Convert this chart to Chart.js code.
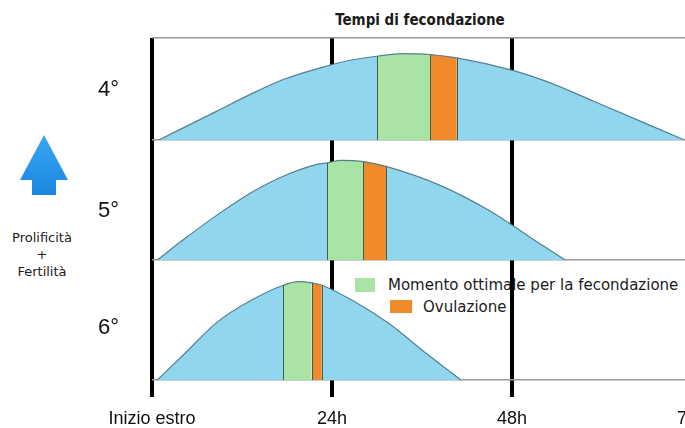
<!DOCTYPE html>
<html>
<head>
<meta charset="utf-8">
<title>Tempi di fecondazione</title>
<script src="https://cdn.jsdelivr.net/npm/chart.js@4.4.0/dist/chart.umd.min.js"></script>
<style>
  html, body { margin: 0; padding: 0; background: #fff; overflow: hidden; }
  #wrap { position: relative; width: 685px; height: 428px; overflow: hidden; }
  #chart { position: absolute; left: 0; top: 0; z-index: 1; }
  .txt { position: absolute; color: #1b1b1b; white-space: nowrap; font-family: "DejaVu Sans", sans-serif; }
  #title { left: 320px; width: 200px; top: 11px; text-align: center; font: bold 15px/18px "DejaVu Sans Condensed", sans-serif; }
  #side { left: 0; width: 84px; top: 229px; text-align: center; font-size: 13px; line-height: 17px; }
  .swatch { position: absolute; }
  #arrow { position: absolute; left: 0; top: 0; }
</style>
</head>
<body>
<div id="wrap">
  <div class="txt" id="title">Tempi di fecondazione</div>
  <svg id="arrow" width="90" height="210">
    <defs>
      <linearGradient id="ag" x1="0" y1="0" x2="0" y2="1">
        <stop offset="0" stop-color="#3aa6f0"/>
        <stop offset="1" stop-color="#1a86df"/>
      </linearGradient>
    </defs>
    <polygon points="44,135 68,180 56,180 56,195 32,195 32,180 20,180" fill="url(#ag)"/>
  </svg>
  <div class="txt" id="side">Prolificità<br>+<br>Fertilità</div>
  <div class="swatch" style="left:355px;top:278px;width:20px;height:14px;background:#a9e4a4"></div>
  <div class="txt" style="left:388px;top:276px;font-size:15px;line-height:18px">Momento ottimale per la fecondazione</div>
  <div class="swatch" style="left:390px;top:300px;width:22px;height:13px;background:#f08a2a"></div>
  <div class="txt" style="left:423px;top:298px;font-size:15px;line-height:18px">Ovulazione</div>
  <canvas id="chart" width="718" height="428"></canvas>
</div>
<script>
// rows: 4°, 5°, 6° (top to bottom); x in hours from the start of oestrus
const rowLabels = ['4°', '5°', '6°'];

const hours4 = [0.9, 8.65, 13.1, 17.5, 22.9, 26.4, 30.0, 33.5, 37.1, 40.65, 48.2, 53.1, 58.9, 71];
const fert4  = [0, 0.283, 0.447, 0.593, 0.717, 0.782, 0.821, 0.847, 0.838, 0.805, 0.68, 0.56, 0.38, 0];

const hours5 = [0.7, 4.2, 8.65, 13.1, 17.5, 22.0, 23.4, 25.2, 28.2, 31.2, 38.5, 45.3, 48.5, 52.1, 55.1];
const fert5  = [0, 0.17, 0.374, 0.557, 0.698, 0.797, 0.81, 0.83, 0.82, 0.78, 0.62, 0.40, 0.27, 0.12, 0];

const hours6 = [0.7, 4.2, 8.65, 13.1, 17.5, 19.5, 21.3, 22.65, 27.1, 31.6, 36.2, 41.2];
const fert6  = [0, 0.21, 0.48, 0.66, 0.79, 0.82, 0.81, 0.79, 0.65, 0.47, 0.24, 0];

// [start, end] in hours, one per row
const optimal   = [[30.0, 37.1], [23.4, 28.2], [17.5, 21.3]];
const ovulation = [[37.1, 40.65], [28.2, 31.2], [21.3, 22.65]];

const hourTicks  = [0, 24, 48, 72];
const hourLabels = ['Inizio estro', '24h', '48h', '72h'];

const BLUE = '#91d6ef';
const GREEN = '#a9e4a4';
const ORANGE = '#f08a2a';
const OUTLINE = '#55808e';
const ROWLINE = '#9a9a9a';

const rowIds = ['yTop', 'yMid', 'yBot'];
const rowWeights = [102, 120, 120];
const labelAt = [0.49, 0.41, 0.43];

function toPoints(hours, vals) {
    return hours.map((h, i) => ({ x: h, y: vals[i] }));
}

function bandColor(row) {
    return ctx => {
        const a = ctx.p0.parsed.x, b = ctx.p1.parsed.x;
        if (a >= optimal[row][0] && b <= optimal[row][1]) return GREEN;
        if (a >= ovulation[row][0] && b <= ovulation[row][1]) return ORANGE;
        return undefined;
    };
}

function makeDataset(row, hours, vals) {
    return {
        data: toPoints(hours, vals),
        yAxisID: rowIds[row],
        borderColor: OUTLINE,
        borderWidth: 1.2,
        backgroundColor: BLUE,
        fill: 'origin',
        pointRadius: 0,
        cubicInterpolationMode: 'monotone',
        segment: { backgroundColor: bandColor(row) }
    };
}

function rowScale(row) {
    return {
        type: 'linear',
        position: 'left',
        stack: 'rows',
        stackWeight: rowWeights[row],
        weight: 3 - row,
        min: 0,
        max: 1,
        border: { display: false },
        grid: {
            drawTicks: false,
            lineWidth: 1.5,
            color: ctx => {
                const v = ctx.tick ? ctx.tick.value : -1;
                if (v === 0 || (row === 0 && v === 1)) return ROWLINE;
                return 'rgba(0,0,0,0)';
            }
        },
        afterBuildTicks: scale => {
            scale.ticks = [{ value: 0 }, { value: labelAt[row] }, { value: 1 }];
        },
        afterFit: scale => { scale.width = 54; },
        ticks: {
            padding: 0,
            autoSkip: false,
            crossAlign: 'far',
            color: '#111',
            font: { family: 'Liberation Sans', size: 22 },
            callback: value => value === labelAt[row] ? rowLabels[row] : ''
        }
    };
}

// thin dark lines on the edges of the coloured bands
const bandEdges = {
    id: 'bandEdges',
    afterDatasetsDraw(chart) {
        const ctx = chart.ctx;
        chart.data.datasets.forEach((ds, i) => {
            const meta = chart.getDatasetMeta(i);
            const yScale = chart.scales[ds.yAxisID];
            const base = yScale.getPixelForValue(0);
            const edges = [optimal[i][0], ovulation[i][0], ovulation[i][1]];
            meta.data.forEach((pt, j) => {
                if (!edges.includes(ds.data[j].x)) return;
                ctx.save();
                ctx.strokeStyle = '#3f5f52';
                ctx.lineWidth = 1;
                ctx.beginPath();
                ctx.moveTo(Math.round(pt.x) + 0.5, base);
                ctx.lineTo(Math.round(pt.x) + 0.5, pt.y);
                ctx.stroke();
                ctx.restore();
            });
        });
    }
};

const chart = new Chart(document.getElementById('chart').getContext('2d'), {
    type: 'line',
    data: {
        datasets: [
            makeDataset(0, hours4, fert4),
            makeDataset(1, hours5, fert5),
            makeDataset(2, hours6, fert6)
        ]
    },
    options: {
        responsive: false,
        animation: false,
        events: [],
        layout: { padding: { left: 98, right: 0, top: 38, bottom: 0 } },
        plugins: {
            legend: { display: false },
            tooltip: { enabled: false }
        },
        scales: {
            x: {
                type: 'linear',
                min: 0,
                max: 72,
                z: 1,
                border: { display: false },
                grid: {
                    lineWidth: 4,
                    tickLength: 17,
                    color: ctx => (ctx.tick && ctx.tick.value === 72) ? 'rgba(0,0,0,0)' : '#000'
                },
                afterBuildTicks: scale => {
                    scale.ticks = hourTicks.map(v => ({ value: v }));
                },
                afterFit: scale => { scale.height = 48; },
                ticks: {
                    padding: 11,
                    maxRotation: 0,
                    autoSkip: false,
                    color: '#111',
                    font: { family: 'Liberation Sans', size: 18 },
                    callback: value => hourLabels[hourTicks.indexOf(value)]
                }
            },
            yTop: rowScale(0),
            yMid: rowScale(1),
            yBot: rowScale(2)
        }
    },
    plugins: [bandEdges]
});
</script>
</body>
</html>
